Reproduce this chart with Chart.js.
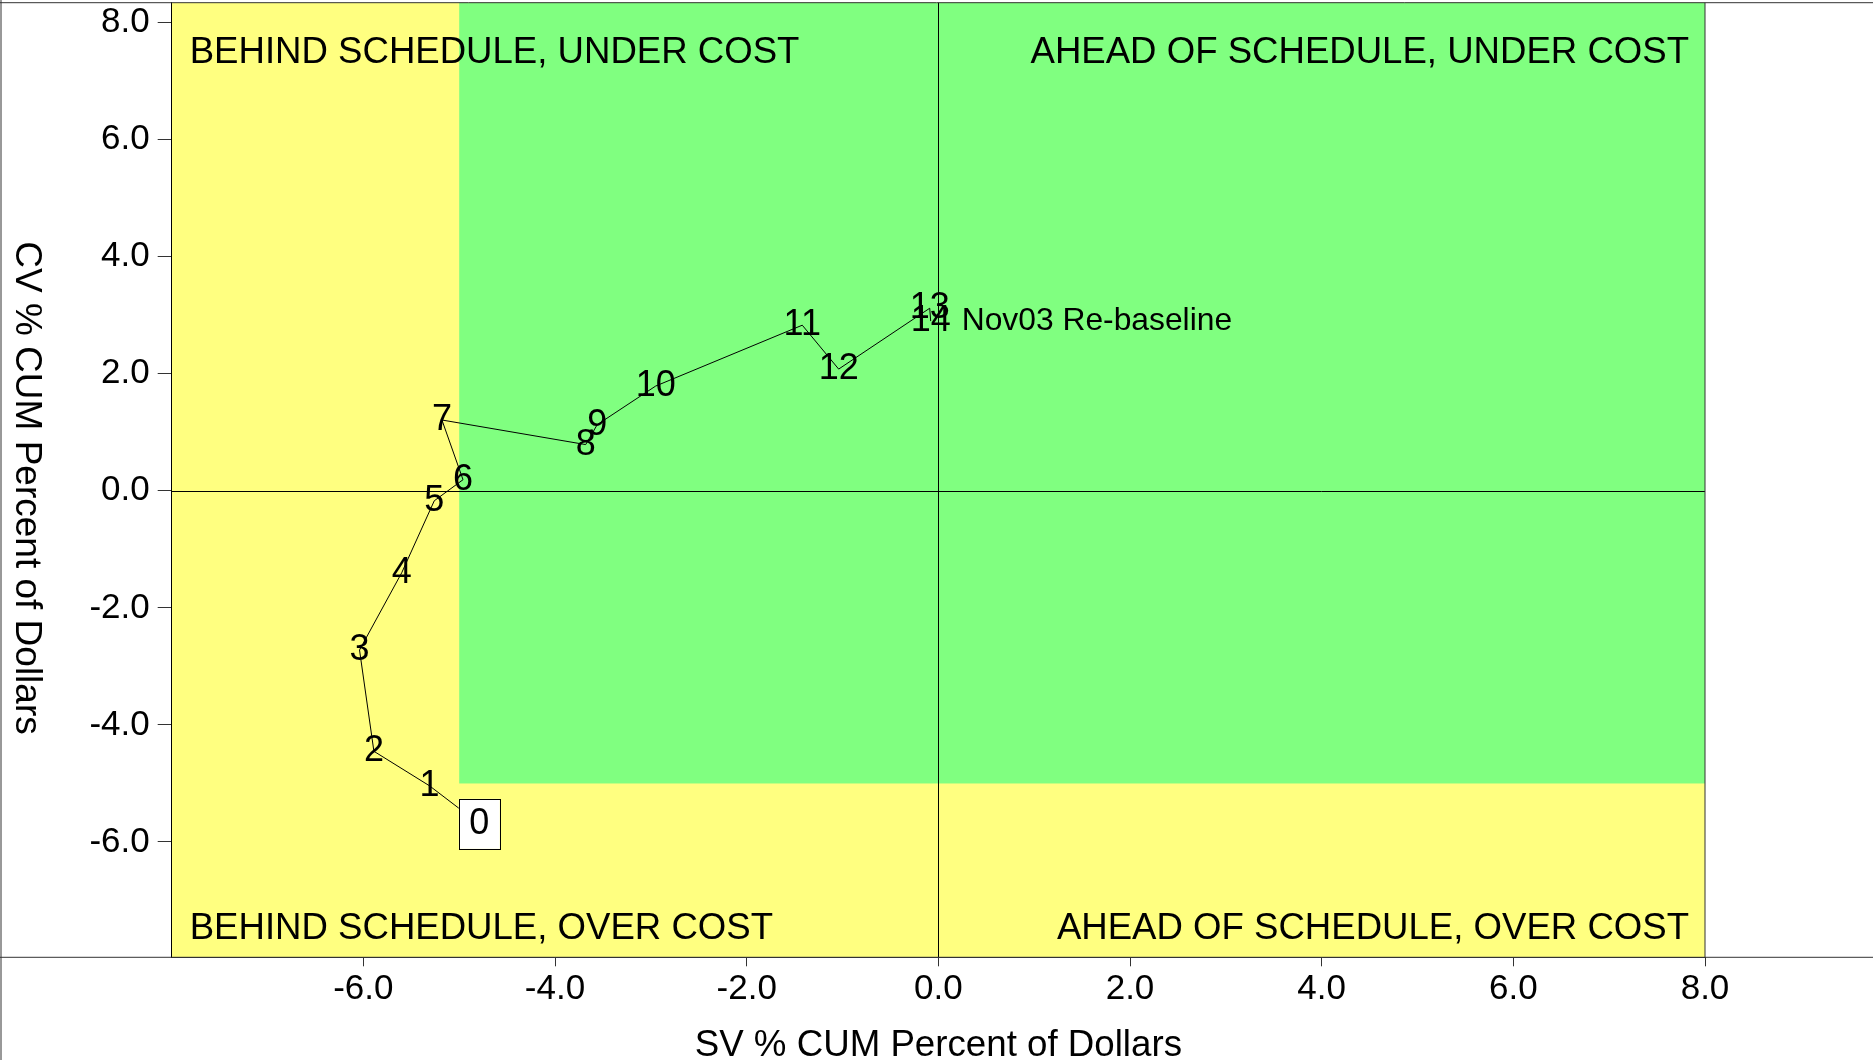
<!DOCTYPE html>
<html>
<head>
<meta charset="utf-8">
<script src="https://cdn.jsdelivr.net/npm/chart.js@4.4.1/dist/chart.umd.min.js"></script>
<style>
  html, body { margin: 0; padding: 0; background: #fff; }
  #wrap { width: 1873px; height: 1060px; }
</style>
</head>
<body>
<div id="wrap"><canvas id="chart" width="1873" height="1060"></canvas></div>
<script>
// period numbers and cumulative variances (percent of dollars)
var periods = ['0', '1', '2', '3', '4', '5', '6', '7', '8', '9', '10', '11', '12', '13', '14'];
var svPct = [-4.79, -5.31, -5.89, -6.04, -5.60, -5.26, -4.96, -5.18, -3.68, -3.56, -2.95, -1.42, -1.04, -0.09, -0.08];
var cvPct = [-5.69, -5.04, -4.45, -2.72, -1.40, -0.17, 0.19, 1.21, 0.79, 1.13, 1.79, 2.83, 2.08, 3.12, 2.90];

var xTicks = [-6, -4, -2, 0, 2, 4, 6, 8];
var yTicks = [-6, -4, -2, 0, 2, 4, 6, 8];

// green zone starts at these thresholds
var greenSV = -5;
var greenCV = -5;

var quadrants = {
  topLeft: 'BEHIND SCHEDULE, UNDER COST',
  topRight: 'AHEAD OF SCHEDULE, UNDER COST',
  bottomLeft: 'BEHIND SCHEDULE, OVER COST',
  bottomRight: 'AHEAD OF SCHEDULE, OVER COST'
};
var note = 'Nov03 Re-baseline';
var xTitle = 'SV % CUM Percent of Dollars';
var yTitle = 'CV % CUM Percent of Dollars';

var FONT = '"Liberation Sans", Arial, sans-serif';

var points = svPct.map(function (v, i) { return { x: v, y: cvPct[i] }; });

var background = {
  id: 'background',
  beforeDraw: function (chart) {
    var c = chart.ctx, a = chart.chartArea, x = chart.scales.x, y = chart.scales.y;
    c.save();
    c.fillStyle = '#FFFF80';
    c.fillRect(a.left, a.top, a.width, a.height);
    var gx = x.getPixelForValue(greenSV);
    var gy = y.getPixelForValue(greenCV);
    c.fillStyle = '#80FF80';
    c.fillRect(gx, a.top, a.right - gx, gy - a.top);
    c.restore();
  },
  beforeDatasetsDraw: function (chart) {
    var c = chart.ctx, a = chart.chartArea, x = chart.scales.x, y = chart.scales.y;
    c.save();
    c.strokeStyle = '#000';
    c.lineWidth = 1;
    var zx = Math.round(x.getPixelForValue(0)) + 0.5;
    var zy = Math.round(y.getPixelForValue(0)) + 0.5;
    c.beginPath();
    c.moveTo(zx, a.top); c.lineTo(zx, a.bottom);
    c.moveTo(a.left, zy); c.lineTo(a.right, zy);
    c.stroke();

    c.fillStyle = '#000';
    c.font = '36.6px ' + FONT;
    c.textBaseline = 'alphabetic';
    c.textAlign = 'left';
    c.fillText(quadrants.topLeft, a.left + 18, a.top + 60);
    c.fillText(quadrants.bottomLeft, a.left + 18, a.bottom - 18);
    c.textAlign = 'right';
    c.fillText(quadrants.topRight, a.right - 16, a.top + 60);
    c.fillText(quadrants.bottomRight, a.right - 16, a.bottom - 18);
    c.restore();
  },
  afterDatasetsDraw: function (chart) {
    var c = chart.ctx;
    var meta = chart.getDatasetMeta(0);
    c.save();
    c.font = '36px ' + FONT;
    c.textAlign = 'center';
    c.textBaseline = 'middle';
    meta.data.forEach(function (pt, i) {
      if (i === 0) {
        c.fillStyle = '#fff';
        c.fillRect(pt.x - 20.5, pt.y - 25, 41, 50);
        c.strokeStyle = '#000';
        c.lineWidth = 1;
        c.strokeRect(Math.round(pt.x - 20.5) + 0.5, Math.round(pt.y - 25) + 0.5, 41, 50);
      }
      c.fillStyle = '#000';
      c.fillText(periods[i], pt.x, pt.y);
    });
    var last = meta.data[meta.data.length - 1];
    c.font = '31.8px ' + FONT;
    c.textAlign = 'left';
    c.fillText(note, last.x + 31, last.y);
    c.restore();
  },
  afterDraw: function (chart) {
    var c = chart.ctx, a = chart.chartArea;
    c.save();
    c.strokeStyle = '#333';
    c.lineWidth = 1;
    c.beginPath();
    c.moveTo(0, a.top); c.lineTo(chart.width, a.top);
    c.moveTo(1, 0); c.lineTo(1, chart.height);
    c.moveTo(0, a.bottom); c.lineTo(chart.width, a.bottom);
    c.moveTo(a.right, a.top); c.lineTo(a.right, a.bottom);
    c.stroke();

    c.fillStyle = '#000';
    c.font = '36.7px ' + FONT;
    c.textAlign = 'center';
    c.textBaseline = 'alphabetic';
    c.fillText(xTitle, (a.left + a.right) / 2, 1056);
    c.font = '37px ' + FONT;
    c.translate(15.5, 488);
    c.rotate(Math.PI / 2);
    c.fillText(yTitle, 0, 0);
    c.restore();
  }
};

var ctx = document.getElementById('chart').getContext('2d');

var evChart = new Chart(ctx, {
  type: 'scatter',
  data: {
    datasets: [{
      data: points,
      showLine: true,
      borderColor: '#000',
      borderWidth: 1,
      pointRadius: 0,
      fill: false,
      tension: 0
    }]
  },
  options: {
    responsive: false,
    animation: false,
    devicePixelRatio: 1,
    events: [],
    layout: { padding: { top: 2.7, right: 168, left: 0, bottom: 0 } },
    plugins: { legend: { display: false }, tooltip: { enabled: false } },
    scales: {
      x: {
        type: 'linear',
        min: -8,
        max: 8,
        afterFit: function (s) {
          s.height = 102.7;
          s.paddingLeft = 0; s.paddingRight = 0;
        },
        afterBuildTicks: function (s) { s.ticks = xTicks.map(function (v) { return { value: v }; }); },
        grid: { drawOnChartArea: false, drawTicks: true, tickLength: 9, color: '#333' },
        border: { display: true, color: '#333', width: 1 },
        ticks: {
          padding: 2,
          color: '#000',
          font: { family: FONT, size: 35 },
          maxRotation: 0,
          callback: function (v) { return Number(v).toFixed(1); }
        }
      },
      y: {
        type: 'linear',
        min: -7.97,
        max: 8.34,
        afterFit: function (s) {
          s.width = 171.7;
          s.paddingTop = 0; s.paddingBottom = 0;
        },
        afterBuildTicks: function (s) { s.ticks = yTicks.map(function (v) { return { value: v }; }); },
        grid: { drawOnChartArea: false, drawTicks: true, tickLength: 14, color: '#333' },
        border: { display: true, color: '#000', width: 1 },
        ticks: {
          padding: 8,
          color: '#000',
          font: { family: FONT, size: 35 },
          callback: function (v) { return Number(v).toFixed(1); }
        }
      }
    }
  },
  plugins: [background]
});
</script>
</body>
</html>
